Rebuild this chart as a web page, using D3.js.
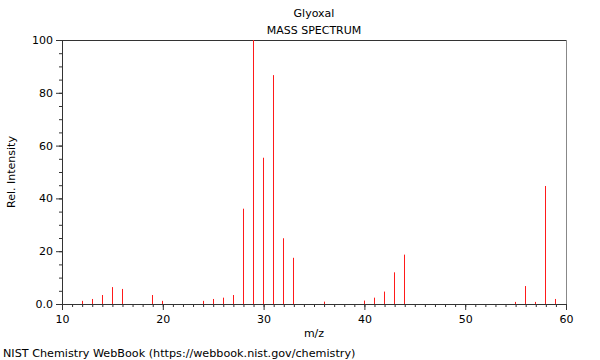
<!DOCTYPE html>
<html>
<head>
<meta charset="utf-8">
<script src="https://cdn.jsdelivr.net/npm/d3@7"></script>
<style>
  body { margin: 0; background: #fff; }
  #chart { width: 600px; height: 360px; }
  text { font-family: "DejaVu Sans", sans-serif; font-size: 11px; fill: #000; }
</style>
</head>
<body>
<div id="chart"></div>
<script>
// peaks
const mz = [12, 13, 14, 15, 16, 19, 20, 24, 25, 26, 27, 28, 29, 30, 31, 32, 33, 36, 40, 41, 42, 43, 44, 55, 56, 57, 58, 59];
const intensity = [1.2, 1.9, 3.4, 6.4, 5.7, 3.4, 1.2, 1.2, 1.9, 2.4, 3.4, 36.1, 100, 55.4, 86.7, 24.9, 17.5, 0.9, 1.3, 2.4, 4.7, 12.0, 18.7, 0.8, 6.8, 0.8, 44.7, 1.9];
const xTicks = [10, 20, 30, 40, 50, 60];
const yTicks = [0, 20, 40, 60, 80, 100];

const width = 600, height = 360;
const margin = {top: 40, left: 62, right: 34, bottom: 56};

const svg = d3.select("#chart").append("svg")
    .attr("width", width)
    .attr("height", height);

const xScale = d3.scaleLinear().domain([10, 60]).range([margin.left, width - margin.right]);
const yScale = d3.scaleLinear().domain([0, 100]).range([height - margin.bottom, margin.top]);

/* frame top + right */
svg.append("line")
    .attr("x1", margin.left).attr("x2", width - margin.right)
    .attr("y1", margin.top + 0.5).attr("y2", margin.top + 0.5)
    .attr("stroke", "#333");
svg.append("line")
    .attr("x1", width - margin.right + 0.5).attr("x2", width - margin.right + 0.5)
    .attr("y1", margin.top).attr("y2", height - margin.bottom)
    .attr("stroke", "#888");

/* peaks */
svg.selectAll(".peak")
    .data(mz)
    .enter()
    .append("line")
        .attr("class", "peak")
        .attr("x1", function(d) { return Math.floor(xScale(d)) + 0.5; })
        .attr("x2", function(d) { return Math.floor(xScale(d)) + 0.5; })
        .attr("y1", yScale(0))
        .attr("y2", function(d, i) { return yScale(intensity[i]); })
        .attr("stroke", "#ff1a1a")
        .attr("stroke-width", 1);

/* minor ticks */
const xMinor = svg.append("g")
    .attr("transform", `translate(0,${height - margin.bottom})`)
    .call(d3.axisBottom(xScale).tickValues(d3.range(10, 61, 1)).tickSize(3).tickFormat(""));
const yMinor = svg.append("g")
    .attr("transform", `translate(${margin.left},0)`)
    .call(d3.axisLeft(yScale).tickValues(d3.range(0, 101, 5)).tickSize(3).tickFormat(""));

/* major ticks + labels */
const xAxis = svg.append("g")
    .attr("transform", `translate(0,${height - margin.bottom})`)
    .call(d3.axisBottom(xScale).tickValues(xTicks).tickSize(6).tickPadding(5));
const yAxis = svg.append("g")
    .attr("transform", `translate(${margin.left},0)`)
    .call(d3.axisLeft(yScale).tickValues(yTicks).tickSize(6).tickPadding(3)
        .tickFormat(function(d) { return d === 0 ? "0.0" : d; }));

svg.selectAll(".domain").attr("stroke", "#333");
svg.selectAll(".tick line").attr("stroke", "#333");
svg.selectAll(".tick text").style("font-size", "11px").style("font-family", "DejaVu Sans");

/* titles */
svg.append("text")
    .attr("x", 314).attr("y", 17)
    .attr("text-anchor", "middle")
    .text("Glyoxal");
svg.append("text")
    .attr("x", 314).attr("y", 34)
    .attr("text-anchor", "middle")
    .text("MASS SPECTRUM");

svg.append("text")
    .attr("x", 314).attr("y", 337)
    .attr("text-anchor", "middle")
    .text("m/z");

svg.append("text")
    .attr("transform", "rotate(-90)")
    .attr("x", -172).attr("y", 15)
    .attr("text-anchor", "middle")
    .text("Rel. Intensity");

svg.append("text")
    .attr("x", 3).attr("y", 357)
    .style("font-size", "11.2px")
    .text("NIST Chemistry WebBook (https://webbook.nist.gov/chemistry)");
</script>
</body>
</html>
